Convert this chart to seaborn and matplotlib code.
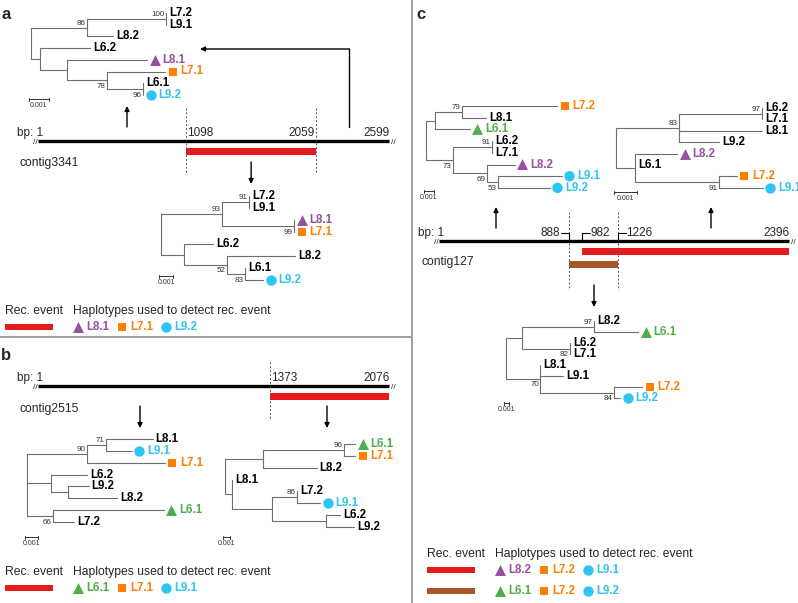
import matplotlib
matplotlib.use("Agg")
import matplotlib.pyplot as plt
import matplotlib.patches as mpatches
import seaborn as sns

sns.set_theme(style="white")
plt.rcParams["font.family"] = ["Liberation Sans", "DejaVu Sans"]

# colours (Set1 + a light blue for the L9 haplotypes)
SET1 = sns.color_palette("Set1")
RED, GREEN, PURPLE, ORANGE, BROWN = SET1[0], SET1[2], SET1[3], SET1[4], SET1[6]
CYAN = "#2ec4f3"
TREE_GREY = "#6e6e6e"

# haplotype lineage -> (marker, colour)
LINEAGE_STYLE = {"6": ("^", GREEN), "7": ("s", ORANGE), "8": ("^", PURPLE), "9": ("o", CYAN)}
MARKER_SIZE = {"^": 62, "s": 38, "o": 56}

# ---- data --------------------------------------------------------------
contig_names = ["contig3341", "contig2515", "contig127"]
contig_lengths = [2599, 2076, 2396]

# recombination events (start bp, end bp)
rec_a = [1098, 2059]
rec_b = [1373, 2076]
rec_c_red = [982, 2396]
rec_c_brown = [888, 1226]

# haplotypes used to detect each event
hap_a = ["L8.1", "L7.1", "L9.2"]
hap_b = ["L6.1", "L7.1", "L9.1"]
hap_c_red = ["L8.2", "L7.2", "L9.1"]
hap_c_brown = ["L6.1", "L7.2", "L9.2"]

# ML trees, branch lengths in units of 0.001 subst./site, bootstrap as node names
tree_a_left = "(((L7.2:0,L9.1:0)100:3.95,L8.2:1.3)86:2.8,(L6.2:2.5,(L8.1:4.0,(L7.1:2.9,(L6.1:0,L9.2:0)96:1.8)78:2.0):1.35):0.45);"
tree_a_rec = "(((L7.2:0,L9.1:0)91:1.93,(L8.1:0,L7.1:0)99:5.14)93:4.36,(L6.2:2.07,(L8.2:4.86,(L6.1:0,L9.2:1.29)83:1.29)52:3.07):1.64);"
tree_b_left = "(((L8.1:3.6,L9.1:2.0)71:1.46,L7.1:6.0)90:4.6,(L6.2:2.77,(L9.2:1.6,L8.2:3.77):1.3):1.85,(L6.1:8.5,L7.2:1.6)66:2.0);"
tree_b_rec = "(((L6.1:1.6,L7.1:1.6)96:11.6,L8.2:7.7):5.4,(L8.1:0,((L7.2:0,L9.1:3.3)86:3.6,(L6.2:2.0,L9.2:4.1):7.7):5.7):1.0);"
tree_c_left = "(((L7.2:9.5,L8.1:2.4)79:2.7,L6.1:3.5):0.9,((L6.2:0,L7.1:0)91:3.9,(L8.2:2.8,(L9.1:6.4,L9.2:5.2)53:1.1)69:3.4)73:2.7);"
tree_c_red = "(((L6.2:0,L7.1:0)97:3.6,L8.1:3.6,L9.2:1.74)83:2.74,(L8.2:1.83,L6.1:0,(L7.2:0.78,L9.1:1.91)91:3.65):0.83);"
tree_c_brown = "(((L8.2:0,L6.1:8.8)97:14.4,(L6.2:0,L7.1:0)82:9.6):3.2,(L8.1:0,L9.1:4.6,(L7.2:5.6,L9.2:1.2)84:14.8)70:6.8);"


def parse_newick(s):
    pos = 0

    def node():
        nonlocal pos
        children = []
        if s[pos] == "(":
            pos += 1
            children.append(node())
            while s[pos] == ",":
                pos += 1
                children.append(node())
            pos += 1
        start = pos
        while s[pos] not in ":,);":
            pos += 1
        name = s[start:pos]
        length = 0.0
        if s[pos] == ":":
            pos += 1
            start = pos
            while s[pos] not in ",);":
                pos += 1
            length = float(s[start:pos])
        return {"name": name, "len": length, "children": children}

    return node()


def draw_tree(ax, newick, root_x, top_y, dy, ppu, scale_y, marked):
    """Rectangular phylogram; ppu = pixels per 0.001"""
    tree = parse_newick(newick)
    tips = []

    def layout(nd, x):
        nd["x"] = x + nd["len"] * ppu
        if nd["children"]:
            for c in nd["children"]:
                layout(c, nd["x"])
            nd["y"] = (nd["children"][0]["y"] + nd["children"][-1]["y"]) / 2
        else:
            nd["y"] = top_y + len(tips) * dy
            tips.append(nd)

    layout(tree, root_x)
    points = []

    def draw(nd):
        kids = nd["children"]
        if not kids:
            if nd["name"] in marked:
                m, col = LINEAGE_STYLE[nd["name"][1]]
                points.append((nd["x"] + 7.5, nd["y"], m, col))
                ax.text(nd["x"] + 15.5, nd["y"], nd["name"], color=col, fontsize=8.3,
                        fontweight="bold", va="center", ha="left")
            else:
                ax.text(nd["x"] + 3, nd["y"], nd["name"], color="black", fontsize=8.3,
                        fontweight="bold", va="center", ha="left")
            return
        ax.plot([nd["x"], nd["x"]], [kids[0]["y"], kids[-1]["y"]], color=TREE_GREY, lw=0.8)
        for i, c in enumerate(kids):
            ax.plot([nd["x"], c["x"]], [c["y"], c["y"]], color=TREE_GREY, lw=0.8)
            if c["children"] and c["name"]:
                if i == 0:
                    ax.text(c["x"] - 1, c["y"] - 1, c["name"], fontsize=5.8, color="#333333",
                            ha="right", va="bottom")
                else:
                    ax.text(c["x"] - 1, c["y"] + 2.5, c["name"], fontsize=5.8, color="#333333",
                            ha="right", va="top")
            draw(c)

    draw(tree)

    for m, size in MARKER_SIZE.items():
        sel = [p for p in points if p[2] == m]
        if sel:
            sns.scatterplot(x=[p[0] for p in sel], y=[p[1] for p in sel], marker=m, s=size,
                            c=[p[3] for p in sel], linewidth=0, ax=ax, zorder=3)

    # scale bar
    sx = root_x - 2
    ax.plot([sx, sx + ppu], [scale_y, scale_y], color="#333333", lw=0.7)
    for xx in (sx, sx + ppu):
        ax.plot([xx, xx], [scale_y - 1.5, scale_y + 1.5], color="#333333", lw=0.7)
    ax.text(sx + ppu / 2, scale_y + 3, "0.001", fontsize=5, ha="center", va="top", color="#333333")


def contig_axis(ax, x0, x1, y, length, name, name_y):
    def bp2x(bp):
        return x0 + (bp - 1) / (length - 1) * (x1 - x0)

    ax.plot([x0, x1], [y, y], color="black", lw=2.4, solid_capstyle="butt")
    ax.text(x0 - 3, y + 1.5, "//", fontsize=6, ha="center", va="center")
    ax.text(x1 + 4, y + 1.5, "//", fontsize=6, ha="center", va="center")
    ax.text(x0 + 5, y - 8, "bp: 1", fontsize=8.5, ha="right", va="center")
    ax.text(x1 + 1, y - 8, str(length), fontsize=8.5, ha="right", va="center")
    ax.text(x0 - 18, name_y, name, fontsize=8.7, ha="left", va="center")
    return bp2x


def rec_bar(ax, xa, xb, y, color):
    ax.add_patch(mpatches.Rectangle((xa, y - 3.3), xb - xa, 6.6, color=color, lw=0))


def arrow(ax, x, y_from, y_to):
    ax.annotate("", xy=(x, y_to), xytext=(x, y_from),
                arrowprops=dict(arrowstyle="-|>", color="black", lw=1, mutation_scale=7,
                                shrinkA=0, shrinkB=0))


def legend(ax, x, y, rows):
    ax.text(x, y, "Rec. event", fontsize=8.7, ha="left", va="center")
    ax.text(x + 68, y, "Haplotypes used to detect rec. event", fontsize=8.7, ha="left", va="center")
    for k, (col, haps) in enumerate(rows):
        yy = y + 16 + k * 21
        rec_bar(ax, x, x + 48, yy, col)
        for j, h in enumerate(haps):
            m, c = LINEAGE_STYLE[h[1]]
            mx = x + 73 + j * 44
            sns.scatterplot(x=[mx], y=[yy], marker=m, s=MARKER_SIZE[m], color=c,
                            linewidth=0, ax=ax)
            ax.text(mx + 8.5, yy, h, color=c, fontsize=8.3, fontweight="bold",
                    ha="left", va="center")


fig = plt.figure(figsize=(7.98, 6.03), dpi=100)
ax = fig.add_axes([0, 0, 1, 1])

# panel separators
ax.plot([412, 412], [0, 603], color="#a0a0a0", lw=1.4)
ax.plot([0, 412], [337, 337], color="#a0a0a0", lw=1.4)

# ---- panel a -----------------------------------------------------------
ax.text(1, 19, "a", fontsize=12, fontweight="bold", ha="left", va="baseline")
draw_tree(ax, tree_a_left, 31, 13, 11.7, 20, 99, hap_a)
draw_tree(ax, tree_a_rec, 161, 196, 12.0, 14, 276, hap_a)
bp2x = contig_axis(ax, 38, 389, 141, contig_lengths[0], contig_names[0], 163)
xa, xb = bp2x(rec_a[0]), bp2x(rec_a[1])
for xx in (xa, xb):
    ax.plot([xx, xx], [108, 173], color="#555555", lw=0.7, ls=(0, (2, 2)))
ax.text(xa + 1, 133, str(rec_a[0]), fontsize=8.5, ha="left", va="center")
ax.text(xb - 1, 133, str(rec_a[1]), fontsize=8.5, ha="right", va="center")
rec_bar(ax, xa, xb, 151.5, RED)
arrow(ax, 127, 127, 106)
arrow(ax, (xa + xb) / 2, 162, 184)
ax.plot([349, 349], [127, 49], color="black", lw=1)
ax.annotate("", xy=(200, 49), xytext=(349.5, 49),
            arrowprops=dict(arrowstyle="-|>", color="black", lw=1, mutation_scale=7,
                            shrinkA=0, shrinkB=0))
legend(ax, 5, 311, [(RED, hap_a)])

# ---- panel b -----------------------------------------------------------
ax.text(1, 360, "b", fontsize=12, fontweight="bold", ha="left", va="baseline")
bp2x = contig_axis(ax, 38, 389, 386, contig_lengths[1], contig_names[1], 409)
xa, xb = bp2x(rec_b[0]), bp2x(rec_b[1])
ax.plot([xa, xa], [362, 420], color="#555555", lw=0.7, ls=(0, (2, 2)))
ax.text(xa + 1, 378, str(rec_b[0]), fontsize=8.5, ha="left", va="center")
rec_bar(ax, xa, xb, 396.7, RED)
arrow(ax, 140, 406, 428)
arrow(ax, 327, 406, 428)
draw_tree(ax, tree_b_left, 27, 439, 11.86, 13, 537, hap_b)
draw_tree(ax, tree_b_rec, 225, 444, 11.86, 7, 537, hap_b)
legend(ax, 5, 572, [(RED, hap_b)])

# ---- panel c -----------------------------------------------------------
ax.text(416, 19, "c", fontsize=12, fontweight="bold", ha="left", va="baseline")
draw_tree(ax, tree_c_left, 426, 106, 11.7, 10, 191, hap_c_red + hap_c_brown)
draw_tree(ax, tree_c_red, 616, 108, 11.4, 23, 192, hap_c_red)
bp2x = contig_axis(ax, 439, 789, 241, contig_lengths[2], contig_names[2], 262.5)
x888, x1226 = bp2x(rec_c_brown[0]), bp2x(rec_c_brown[1])
x982, x2396 = bp2x(rec_c_red[0]), bp2x(rec_c_red[1])
for xx in (x888, x1226):
    ax.plot([xx, xx], [212, 290], color="#555555", lw=0.7, ls=(0, (2, 2)))
# bracketed break-point labels
ax.plot([x888 - 8, x888, x888], [233, 233, 241], color="black", lw=0.8)
ax.text(x888 - 8.5, 233, str(rec_c_brown[0]), fontsize=8.5, ha="right", va="center")
for xx, lab in ((x982, rec_c_red[0]), (x1226, rec_c_brown[1])):
    ax.plot([xx, xx, xx + 8], [241, 233, 233], color="black", lw=0.8)
    ax.text(xx + 8.5, 233, str(lab), fontsize=8.5, ha="left", va="center")
rec_bar(ax, x982, x2396, 251.7, RED)
rec_bar(ax, x888, x1226, 264.2, BROWN)
arrow(ax, 496, 228, 207)
arrow(ax, 711, 228, 207)
arrow(ax, 594, 285, 307)
draw_tree(ax, tree_c_brown, 506, 321, 11.0, 5, 403, hap_c_brown)
legend(ax, 427, 554, [(RED, hap_c_red), (BROWN, hap_c_brown)])

ax.set_xlim(0, 798)
ax.set_ylim(603, 0)
ax.set_axis_off()
fig.savefig("out.png", dpi=100)
